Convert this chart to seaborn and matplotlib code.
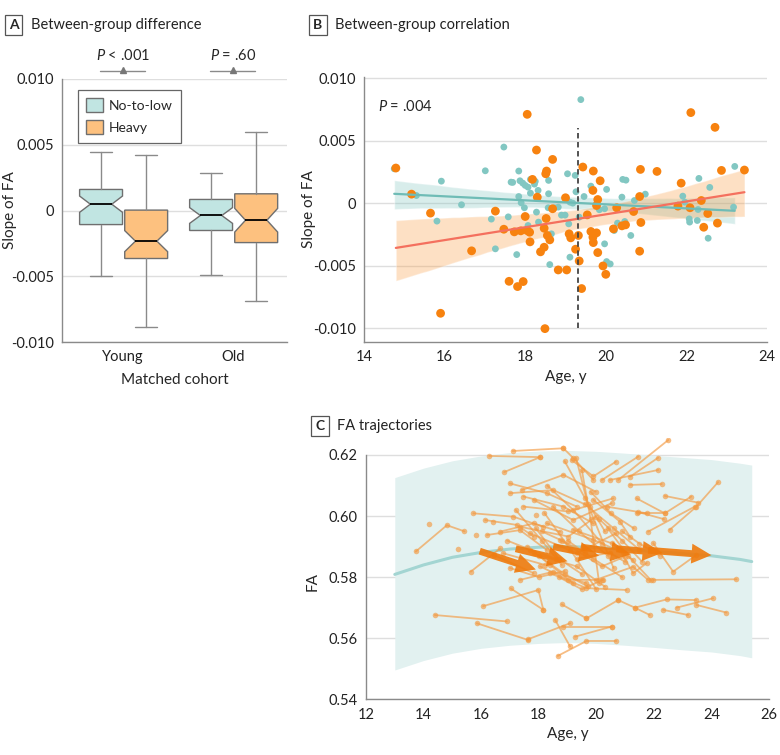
import numpy as np
import pandas as pd
import matplotlib
matplotlib.use("Agg")
import matplotlib.pyplot as plt
import seaborn as sns
from matplotlib.patches import Patch

# ---------- Panel A: box stats (units of 1e-3)
groups = ["No-to-low", "Heavy"]
cohorts = ["Young", "Old"]
box_min = [-4.97, -8.83, -4.92, -6.88]
box_q1 = [-1.07, -3.65, -1.52, -2.44]
box_med = [0.48, -2.33, -0.38, -0.74]
box_q3 = [1.60, 0.03, 0.84, 1.27]
box_max = [4.42, 4.20, 2.84, 6.00]
box_notch = [0.62, 0.80, 0.60, 0.90]
p_labels = ["$P$ < .001", "$P$ = .60"]

# ---------- Panel B: slope of FA vs age (slope in 1e-3)
teal_age = [14.75, 15.30, 15.92, 15.81, 16.42, 17.01, 17.16, 17.26, 17.47, 17.58,
            17.65, 17.69, 17.79, 17.84, 17.84, 17.87, 17.90, 17.94, 17.98, 18.00,
            18.07, 18.13, 18.13, 18.23, 18.25, 18.28, 18.32, 18.33, 18.07, 18.51,
            18.58, 18.58, 18.57, 18.61, 18.65, 18.73, 18.82, 18.90, 18.99, 19.05,
            19.03, 19.11, 19.11, 19.08, 19.18, 19.24, 19.26, 19.34, 19.38, 19.46,
            19.63, 19.84, 19.97, 19.97, 20.02, 20.02, 20.11, 20.21, 20.29, 20.40,
            20.42, 20.50, 20.47, 20.62, 20.71, 20.98, 21.91, 22.07, 22.08, 22.27,
            22.29, 22.31, 22.58, 22.54, 23.17, 23.20, 21.96]
teal_slope = [2.75, 0.61, 1.76, -1.44, -0.13, 2.59, -1.28, -3.66, 4.49, -1.10,
              1.68, 1.66, -4.12, 2.57, 0.53, 1.79, 0.03, 1.60, -0.37, 1.42,
              1.28, 0.80, 1.90, 1.52, 1.74, -0.72, 1.02, -1.52, -1.79, 2.43,
              1.82, 0.75, -0.37, -4.92, -2.46, -0.37, -0.32, -0.96, -0.96, 2.35,
              0.27, 0.08, -4.33, -1.66, 0.00, 2.22, 0.91, -1.12, 8.29, 0.53,
              1.36, -0.53, -0.45, -3.26, 1.10, -4.68, -4.87, -2.19, -1.60, 0.48,
              1.90, 1.84, -1.47, -2.59, 0.21, 0.72, 0.56, -1.26, -1.52, -1.39,
              -0.51, 1.98, 1.26, -2.81, -0.32, 2.94, 0.08]
heavy_age = [14.79, 15.18, 15.65, 15.90, 16.67, 17.26, 17.47, 17.60, 17.73, 17.81,
             17.95, 17.89, 18.00, 18.05, 18.11, 18.12, 18.18, 18.28, 18.30, 18.05,
             18.38, 18.47, 18.49, 18.52, 18.47, 18.53, 18.51, 18.68, 18.61, 18.55,
             18.68, 18.82, 19.00, 19.03, 19.09, 19.13, 19.25, 19.32, 19.34, 19.40,
             19.43, 19.54, 19.69, 19.68, 19.63, 19.68, 19.69, 19.80, 19.77, 19.80,
             19.86, 19.77, 19.93, 20.00, 20.27, 20.19, 20.40, 20.49, 20.69, 20.84,
             20.86, 20.87, 20.84, 21.27, 21.79, 21.87, 22.09, 22.11, 22.37, 22.43,
             22.53, 22.71, 22.77, 22.87, 23.44]
heavy_slope = [2.81, 0.72, -0.80, -8.82, -3.82, -0.64, -2.09, -6.26, -2.30, -6.68,
               -6.28, -2.22, -1.07, 7.11, -2.33, -3.10, 1.90, 4.25, 0.48, -2.20,
               -3.90, -3.53, -10.05, -1.23, -2.01, 2.57, 2.35, 3.50, -2.94, -2.59,
               -0.45, -5.35, 0.43, -5.35, -2.46, -2.78, -3.69, -2.59, -4.63, -6.84,
               2.89, -0.94, 2.57, 1.02, -2.27, -2.73, -3.16, 0.29, -2.38, -3.96,
               1.79, -0.19, -5.03, -5.70, -0.37, -2.06, -1.82, -1.74, -0.67, 0.53,
               2.70, -1.55, -3.85, 2.54, -0.24, 1.60, -0.37, 7.25, 0.21, -1.93,
               -0.83, 6.07, -1.60, 2.62, 2.65]
cutoff_age = 19.3
cutoff_range = [-0.010, 0.006]

# ---------- Panel C: normative curve (no-to-low) and heavy trajectories
curve_age = [13, 14, 15, 16, 17, 18, 19, 20, 21, 22, 23, 24, 25, 25.4]
curve_fa = [0.5809, 0.5840, 0.5865, 0.5881, 0.5892, 0.5898, 0.5900, 0.5897,
            0.5891, 0.5884, 0.5877, 0.5870, 0.5858, 0.5851]
curve_lo = [0.5496, 0.5527, 0.5551, 0.5567, 0.5577, 0.5583, 0.5586, 0.5583,
            0.5577, 0.5570, 0.5562, 0.5555, 0.5543, 0.5536]
curve_hi = [0.6126, 0.6157, 0.6181, 0.6197, 0.6208, 0.6213, 0.6215, 0.6212,
            0.6206, 0.6199, 0.6192, 0.6185, 0.6173, 0.6167]

traj_age = [[13.73, 14.81, 15.42], [14.39, 16.89], [15.85, 17.64], [16.07, 17.99, 18.16],
            [16.28, 18.05], [17.09, 18.86], [16.80, 18.05], [18.86, 19.20, 19.90],
            [19.14, 19.90, 20.68], [20.19, 21.46], [20.76, 22.50], [21.17, 22.15],
            [20.47, 22.15], [21.17, 22.27], [21.40, 22.38, 23.30], [22.38, 23.54],
            [21.80, 23.42], [22.55, 23.48, 24.23], [21.40, 22.38], [21.98, 22.67, 23.48],
            [21.98, 24.87], [21.34, 22.44, 23.48], [22.32, 23.19], [22.79, 24.06],
            [23.48, 24.52], [20.76, 21.34, 21.86], [19.66, 20.76], [18.80, 19.66],
            [19.26, 20.53], [18.86, 20.53], [18.57, 19.09], [17.64, 19.09],
            [18.66, 19.66, 20.70], [15.73, 17.12, 18.16], [16.14, 17.24, 17.82],
            [16.66, 17.82, 18.74], [17.00, 18.28, 19.32], [17.00, 18.51, 19.78],
            [17.41, 18.86, 19.98], [17.47, 18.86, 19.90], [17.82, 19.20, 20.53],
            [17.47, 19.03, 20.59], [17.35, 19.03, 19.98], [17.70, 19.32, 20.70],
            [18.28, 19.90, 20.99], [18.74, 20.19, 20.99], [19.20, 20.53, 21.28],
            [17.82, 19.32, 20.30], [17.35, 18.51, 19.66], [18.05, 19.03, 20.24],
            [18.39, 19.66, 21.05], [19.98, 21.28, 21.80], [16.43, 17.82],
            [16.20, 17.35, 18.28], [16.77, 18.22], [20.36, 21.75], [19.90, 20.82, 21.17],
            [20.82, 21.28, 21.75], [19.32, 20.47, 21.00], [15.64, 16.66], [17.03, 18.16],
            [21.46, 22.35], [18.90, 19.60, 20.30], [19.50, 19.80, 20.10],
            [18.20, 19.10, 20.00], [17.90, 18.70, 19.50], [18.50, 19.40, 20.40],
            [19.00, 19.90, 20.90], [17.60, 18.40, 19.20], [18.00, 18.90, 19.70],
            [19.60, 20.60, 21.50], [20.10, 20.90, 21.60], [18.30, 19.20, 20.20],
            [17.20, 18.10, 18.80], [19.30, 19.70, 20.60], [20.40, 21.10, 21.90],
            [18.70, 19.50, 20.20], [17.00, 18.00, 18.90], [19.80, 20.50, 21.30],
            [18.10, 18.80, 19.60], [16.90, 17.70, 18.60], [20.90, 21.50, 22.20],
            [15.18], [14.20], [15.82], [16.40], [17.90]]
traj_fa = [[0.5884, 0.5970, 0.5950], [0.5676, 0.5655], [0.5649, 0.5594], [0.5705, 0.5758, 0.5693],
           [0.6197, 0.6193], [0.6213, 0.6222], [0.6144, 0.6193], [0.6222, 0.6190, 0.6118],
           [0.6184, 0.6130, 0.6178], [0.6118, 0.6195], [0.6118, 0.6249], [0.6129, 0.6191],
           [0.6118, 0.6151], [0.6102, 0.6105], [0.6058, 0.6009, 0.6064], [0.6066, 0.6044],
           [0.5949, 0.6031], [0.5955, 0.6031, 0.6111], [0.6009, 0.6009], [0.5911, 0.5818, 0.5873],
           [0.5791, 0.5793], [0.5700, 0.5727, 0.5725], [0.5693, 0.5676], [0.5700, 0.5731],
           [0.5709, 0.5684], [0.5725, 0.5700, 0.5676], [0.5665, 0.5725], [0.5711, 0.5665],
           [0.5605, 0.5638], [0.5638, 0.5638], [0.5660, 0.5573], [0.5597, 0.5649],
           [0.5542, 0.5591, 0.5591], [0.6009, 0.5998, 0.5965], [0.5987, 0.5971, 0.5933],
           [0.5949, 0.5976, 0.5949], [0.6107, 0.6075, 0.6031], [0.6075, 0.6085, 0.6031],
           [0.6085, 0.6135, 0.6080], [0.6064, 0.6031, 0.5976], [0.6053, 0.5987, 0.6042],
           [0.6031, 0.6015, 0.6058], [0.5965, 0.5933, 0.5998], [0.5944, 0.5878, 0.5944],
           [0.5976, 0.5922, 0.5878], [0.5922, 0.5835, 0.5867], [0.5955, 0.5911, 0.5856],
           [0.5878, 0.5835, 0.5769], [0.5791, 0.5818, 0.5780], [0.5835, 0.5791, 0.5791],
           [0.5813, 0.5764, 0.5758], [0.5791, 0.5834, 0.5791], [0.5873, 0.5813],
           [0.5938, 0.5954, 0.5889], [0.5878, 0.5840], [0.6031, 0.6009], [0.6053, 0.5982, 0.5933],
           [0.5889, 0.5813, 0.5846], [0.5860, 0.5880, 0.5850], [0.5818, 0.5894], [0.5763, 0.5693],
           [0.6013, 0.5990], [0.6180, 0.6060, 0.5950], [0.6150, 0.5990, 0.5780],
           [0.6010, 0.5890, 0.5760], [0.5960, 0.5860, 0.5810], [0.6030, 0.5950, 0.5870],
           [0.5920, 0.5860, 0.5800], [0.5900, 0.5840, 0.5780], [0.5870, 0.5810, 0.5770],
           [0.6040, 0.5960, 0.5890], [0.5990, 0.5920, 0.5850], [0.6100, 0.6020, 0.5910],
           [0.6020, 0.5920, 0.5840], [0.6190, 0.6040, 0.5830], [0.5960, 0.5870, 0.5790],
           [0.5800, 0.5760, 0.5790], [0.5830, 0.5800, 0.5820], [0.6080, 0.6010, 0.5960],
           [0.5950, 0.5920, 0.5880], [0.5920, 0.5890, 0.5860], [0.5950, 0.5910, 0.5870],
           [0.5891], [0.5974], [0.5938], [0.5980], [0.6005]]

# mean heavy-use trajectory arrows (start age, start FA, end age, end FA)
arrow_x0 = [15.95, 17.20, 18.50, 19.50, 20.70, 21.80]
arrow_y0 = [0.5885, 0.5893, 0.5900, 0.5898, 0.5893, 0.5888]
arrow_x1 = [17.90, 19.00, 20.10, 21.20, 22.30, 24.00]
arrow_y1 = [0.5825, 0.5852, 0.5870, 0.5875, 0.5880, 0.5872]

teal_box = "#c1e5e2"
orange_box = "#fdc17f"
teal_pt = "#82c7c2"
orange_pt = "#f7820f"
gris = "#8a8a8a"
grid_c = "#dedede"

sns.set_style("white")
plt.rcParams["font.family"] = ["Lato", "DejaVu Sans"]
plt.rcParams["mathtext.fontset"] = "custom"
plt.rcParams["mathtext.it"] = "Lato:italic"
plt.rcParams["mathtext.rm"] = "Lato"

fig = plt.figure(figsize=(7.8, 7.55), dpi=100)


def estilo_ejes(ax):
    for s in ["top", "right"]:
        ax.spines[s].set_visible(False)
    for s in ["left", "bottom"]:
        ax.spines[s].set_color(gris)
        ax.spines[s].set_linewidth(1.0)
    ax.tick_params(axis="both", length=4, width=1, color=gris, labelsize=10.5,
                   labelcolor="#222222", direction="out", pad=2)
    ax.set_axisbelow(True)
    ax.yaxis.grid(True, color=grid_c, lw=1)
    ax.xaxis.grid(False)


def etiqueta_panel(x, y, letra, titulo):
    fig.text(x, y, letra, ha="center", va="center", fontsize=10, fontweight="bold",
             bbox=dict(boxstyle="square,pad=0.3", fc="white", ec="#555555", lw=0.9))
    fig.text(x + 0.022, y, titulo, ha="left", va="center", fontsize=10.5, color="#222222")


# ---------------- Panel A
axA = fig.add_axes([62 / 780, 1 - 342 / 755, 225 / 780, 263 / 755])
estilo_ejes(axA)
posiciones = [-0.2, 0.21, 0.8, 1.21]
stats = []
for i in range(4):
    stats.append({
        "med": box_med[i] / 1000, "q1": box_q1[i] / 1000, "q3": box_q3[i] / 1000,
        "whislo": box_min[i] / 1000, "whishi": box_max[i] / 1000,
        "cilo": (box_med[i] - box_notch[i]) / 1000, "cihi": (box_med[i] + box_notch[i]) / 1000,
        "fliers": [],
    })
bp = axA.bxp(stats, positions=posiciones, widths=0.39, shownotches=True, patch_artist=True,
             showfliers=False,
             boxprops=dict(edgecolor="#6f6f6f", linewidth=1),
             medianprops=dict(color="black", linewidth=1.3),
             whiskerprops=dict(color=gris, linewidth=1),
             capprops=dict(color=gris, linewidth=1))
for i, caja in enumerate(bp["boxes"]):
    caja.set_facecolor(teal_box if i % 2 == 0 else orange_box)
axA.set_xlim(-0.555, 1.49)
axA.set_ylim(-0.010, 0.010)
axA.set_yticks([-0.010, -0.005, 0, 0.005, 0.010])
axA.set_yticklabels(["-0.010", "-0.005", "0", "0.005", "0.010"])
axA.set_xticks(range(len(cohorts)))
axA.set_xticklabels(cohorts, fontsize=10.5)
axA.set_xlabel("Matched cohort", fontsize=11, labelpad=6)
axA.set_ylabel("Slope of FA", fontsize=11)
axA.yaxis.set_label_coords(-0.2, 0.5)
for i, txt in enumerate(p_labels):
    axA.plot([i - 0.21, i + 0.2], [0.0106, 0.0106], color=gris, lw=1, clip_on=False)
    axA.plot(i, 0.01072, marker="^", ms=4.5, color="#777777", clip_on=False)
    axA.text(i, 0.0118, txt, ha="center", va="center", fontsize=10.5, clip_on=False)
leyenda = [Patch(facecolor=teal_box, edgecolor="#6f6f6f", label=groups[0]),
           Patch(facecolor=orange_box, edgecolor="#6f6f6f", label=groups[1])]
lg = axA.legend(handles=leyenda, loc="upper left", bbox_to_anchor=(0.04, 0.985),
                fontsize=10, handlelength=1.2, handleheight=1.2, borderpad=0.6,
                labelspacing=0.55, handletextpad=0.45, fancybox=False, framealpha=1)
lg.get_frame().set_edgecolor("#666666")
lg.get_frame().set_linewidth(0.9)

# ---------------- Panel B
axB = fig.add_axes([364 / 780, 1 - 342 / 755, 403 / 780, 265 / 755])
estilo_ejes(axB)
df_teal = pd.DataFrame({"age": teal_age, "slope": np.array(teal_slope) / 1000, "group": groups[0]})
df_heavy = pd.DataFrame({"age": heavy_age, "slope": np.array(heavy_slope) / 1000, "group": groups[1]})
df_b = pd.concat([df_teal, df_heavy], ignore_index=True)

sns.regplot(data=df_teal, x="age", y="slope", scatter=False, ax=axB, color="#6fbcb6",
            seed=3, line_kws={"lw": 1.6, "zorder": 3})
axB.collections[-1].set_facecolor("#7fc4c0")
axB.collections[-1].set_alpha(0.3)
sns.regplot(data=df_heavy, x="age", y="slope", scatter=False, ax=axB, color="#f4705e",
            seed=3, line_kws={"lw": 1.6, "zorder": 3})
axB.collections[-1].set_facecolor("#fb9a3c")
axB.collections[-1].set_alpha(0.3)
sns.scatterplot(data=df_b, x="age", y="slope", hue="group", size="group",
                palette={groups[0]: teal_pt, groups[1]: orange_pt},
                sizes={groups[0]: 24, groups[1]: 40}, linewidth=0, legend=False,
                ax=axB, zorder=2)
axB.vlines(cutoff_age, cutoff_range[0], cutoff_range[1], colors="#444444",
           linestyles=(0, (3, 2)), lw=1.3, zorder=4)
axB.set_xlim(14, 24)
axB.set_ylim(-0.01112, 0.0101)
axB.set_xticks([14, 16, 18, 20, 22, 24])
axB.set_yticks([-0.010, -0.005, 0, 0.005, 0.010])
axB.set_yticklabels(["-0.010", "-0.005", "0", "0.005", "0.010"])
axB.set_xlabel("Age, y", fontsize=11, labelpad=4)
axB.set_ylabel("Slope of FA", fontsize=11)
axB.yaxis.set_label_coords(-0.118, 0.5)
axB.text(0.035, 0.87, "$P$ = .004", transform=axB.transAxes, fontsize=10.5)

# ---------------- Panel C
axC = fig.add_axes([366 / 780, 1 - 699.3 / 755, 403 / 780, 261.1 / 755])
estilo_ejes(axC)
axC.fill_between(curve_age, curve_lo, curve_hi, color="#e2f1f0", lw=0, zorder=1)
sns.lineplot(x=curve_age, y=curve_fa, ax=axC, color="#a3d5d2", lw=2.2, zorder=2)

filas = []
for k, (ages, fas) in enumerate(zip(traj_age, traj_fa)):
    for a, f in zip(ages, fas):
        filas.append({"id": k, "age": a, "fa": f})
df_c = pd.DataFrame(filas)
sns.lineplot(data=df_c, x="age", y="fa", units="id", estimator=None, ax=axC,
             color="#f39a42", alpha=0.65, lw=1.3, marker="o", markersize=4,
             markeredgewidth=0, sort=False, zorder=3)
for x0, y0, x1, y1 in zip(arrow_x0, arrow_y0, arrow_x1, arrow_y1):
    axC.annotate("", xy=(x1, y1), xytext=(x0, y0), zorder=5,
                 arrowprops=dict(arrowstyle="simple,head_length=1.3,head_width=1.3,tail_width=0.45",
                                 color="#ef7a0c", alpha=0.9, mutation_scale=11,
                                 shrinkA=0, shrinkB=0, lw=0))
axC.set_xlim(12, 26)
axC.set_ylim(0.54, 0.6255)
axC.spines["left"].set_bounds(0.54, 0.62)
axC.set_xticks(range(12, 27, 2))
axC.set_yticks([0.54, 0.56, 0.58, 0.60, 0.62])
axC.set_yticklabels(["0.54", "0.56", "0.58", "0.60", "0.62"])
axC.set_xlabel("Age, y", fontsize=11, labelpad=4)
axC.set_ylabel("FA", fontsize=11)
axC.yaxis.set_label_coords(-0.115, 0.45)

etiqueta_panel(13.5 / 780, 1 - 25 / 755, "A", "Between-group difference")
etiqueta_panel(318 / 780, 1 - 25 / 755, "B", "Between-group correlation")
etiqueta_panel(320 / 780, 1 - 426 / 755, "C", "FA trajectories")

fig.savefig("out.png", dpi=100)
